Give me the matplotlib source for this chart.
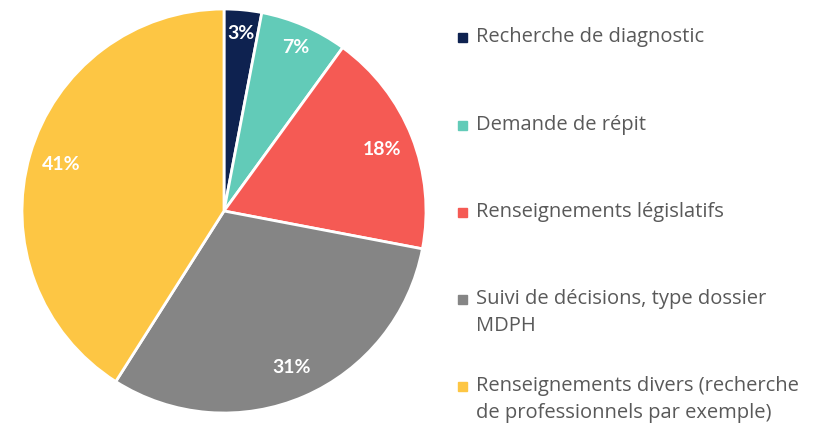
import numpy as np
import matplotlib.pyplot as plt
from matplotlib.patches import Rectangle

categories = [
    "Recherche de diagnostic",
    "Demande de répit",
    "Renseignements législatifs",
    "Suivi de décisions, type dossier\nMDPH",
    "Renseignements divers (recherche\nde professionnels par exemple)",
]
shares = [3, 7, 18, 31, 41]
colors = ["#0e2250", "#62cbb8", "#f55a54", "#858585", "#fdc644"]

plt.rcParams['font.family'] = ['Lato', 'DejaVu Sans']

fig = plt.figure(figsize=(8.18, 4.27), dpi=100)
ax = fig.add_axes([22 / 818, 13 / 427, 404 / 818, 404 / 427])

wedges, texts, autotexts = ax.pie(
    shares, colors=colors, startangle=90, counterclock=False,
    autopct='%d%%', pctdistance=0.84,
    wedgeprops=dict(edgecolor='white', linewidth=2, clip_on=False),
    textprops=dict(color='white', fontsize=14, fontweight='bold'),
)
# thin slices get their label pushed a little further out
for w, t, s in zip(wedges, autotexts, shares):
    if s < 10:
        mid = np.deg2rad((w.theta1 + w.theta2) / 2)
        t.set_position((0.89 * np.cos(mid), 0.89 * np.sin(mid)))

ax.set_xlim(-1.0, 1.0)
ax.set_ylim(-1.0, 1.0)
ax.set_aspect('equal')

# legend drawn by hand: entries are spaced evenly by top line
rows_y = [38, 126, 213, 300, 387]
for label, color, y in zip(categories, colors, rows_y):
    yf = 1 - y / 427
    fig.patches.append(Rectangle((458 / 818, yf - 4.5 / 427), 9 / 818, 9 / 427,
                                 transform=fig.transFigure, color=color))
    fig.text(476 / 818, yf + 11 / 427, label, fontsize=14.5, color='#595959',
             va='top', ha='left', linespacing=1.45,
             family=['Open Sans', 'DejaVu Sans'])

fig.savefig('out.png', dpi=100, facecolor='white')
